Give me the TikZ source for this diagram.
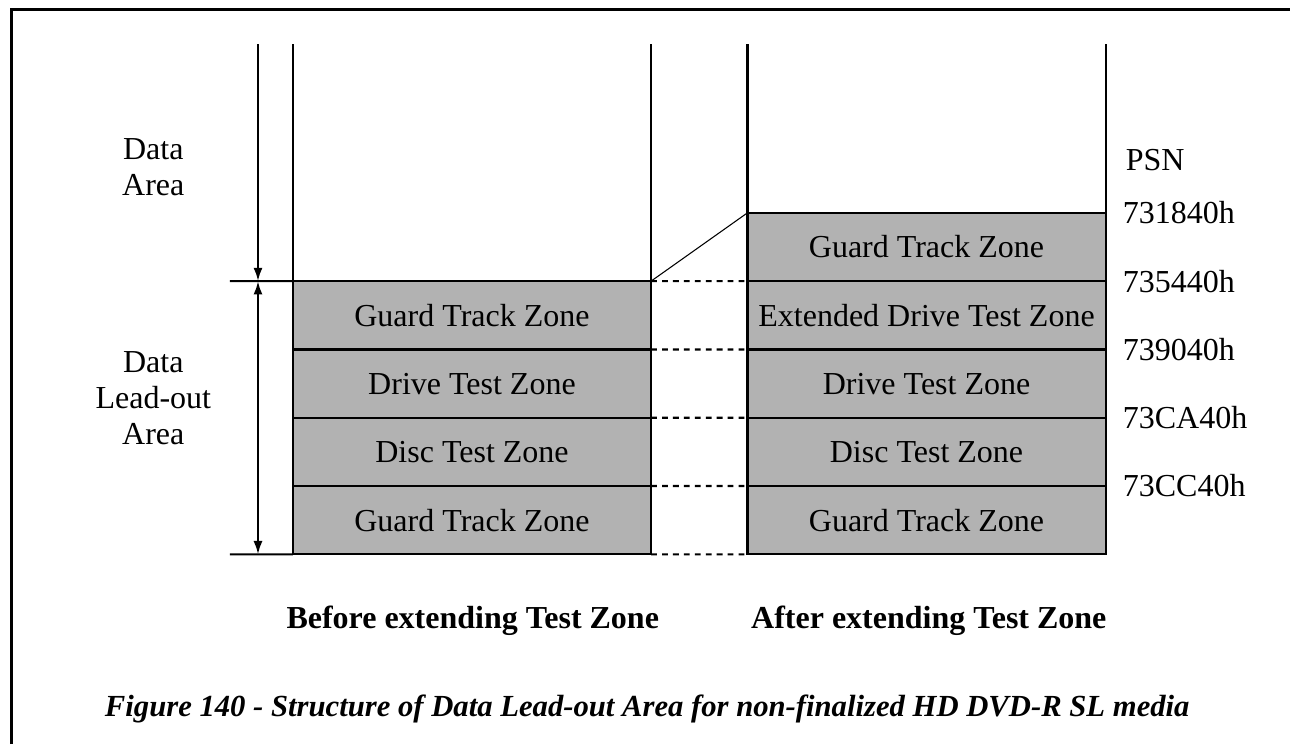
\documentclass[tikz,border=0pt]{standalone}
\usepackage{fontspec}
\setmainfont{Liberation Serif}
\usetikzlibrary{positioning,arrows.meta}

\begin{document}
\begin{tikzpicture}[
  font=\fontsize{12}{13.5}\selectfont,
  >={Latex[length=5pt,width=3.4pt]},
  zone/.style={rectangle, draw=black, fill=black!30, line width=0.8pt, inner sep=0pt, outer sep=0pt, minimum width=4.72cm, minimum height=0.9cm},
  wall/.style={line width=0.8pt, draw=black},
  link/.style={line width=0.8pt, dash pattern=on 2.2pt off 1.9pt},
  addr/.style={anchor=west, inner sep=0pt},
  side/.style={align=center, inner sep=0pt},
  title/.style={font=\fontsize{12}{13.5}\selectfont\bfseries}
]
  \useasboundingbox (0,0) rectangle (17,9.805);

  % Marco (solo borde superior e izquierdo)
  \draw[line width=1.1pt] (0.15,0) -- (0.15,9.68) -- (17,9.68);

  % Antes de extender: columna izquierda
  \node[zone] (bg1) at (6.22,5.65) {Guard Track Zone};
  \node[zone, below=0pt of bg1] (bd) {Drive Test Zone};
  \node[zone, below=0pt of bd] (bc) {Disc Test Zone};
  \node[zone, below=0pt of bc] (bg2) {Guard Track Zone};

  % Despues de extender: columna derecha
  \node[zone] (ag1) at (12.21,6.55) {Guard Track Zone};
  \node[zone, below=0pt of ag1] (ae) {Extended Drive Test Zone};
  \node[zone, below=0pt of ae] (ad) {Drive Test Zone};
  \node[zone, below=0pt of ad] (ac) {Disc Test Zone};
  \node[zone, below=0pt of ac] (ag2) {Guard Track Zone};

  % Lineas verticales de la zona de datos
  \coordinate (top) at (3.40,9.225);
  \draw[wall] (bg1.north west) -- (bg1.north west |- top);
  \draw[wall] (bg1.north east) -- (bg1.north east |- top);
  \draw[wall] (ag1.north west) -- (ag1.north west |- top);
  \draw[wall] (ag1.north east) -- (ag1.north east |- top);

  % Flechas de extension a la izquierda
  \coordinate (tk1) at (3.03,6.1);
  \coordinate (tk2) at (3.03,2.5);
  \draw[wall] (tk1) -- (bg1.north west);
  \draw[wall] (tk2) -- (bg2.south west);
  \draw[wall, ->] (top) -- (top |- bg1.north);
  \draw[wall, <->] (top |- bg1.north) -- (top |- bg2.south);

  % Conexiones entre columnas
  \draw[line width=0.4pt] (bg1.north east) -- (ag1.north west);
  \draw[link] (bg1.north east) -- (ae.north west);
  \draw[link] (bd.north east) -- (ad.north west);
  \draw[link] (bc.north east) -- (ac.north west);
  \draw[link] (bg2.north east) -- (ag2.north west);
  \draw[link] (bg2.south east) -- (ag2.south west);

  % Direcciones PSN
  \node[addr] (psn) at (14.83,7.70) {PSN};
  \node[addr, right=0.22cm of ag1.north east] (p1) {731840h};
  \node[addr, right=0.22cm of ae.north east] (p2) {735440h};
  \node[addr, right=0.22cm of ad.north east] (p3) {739040h};
  \node[addr, right=0.22cm of ac.north east] (p4) {73CA40h};
  \node[addr, right=0.22cm of ag2.north east] (p5) {73CC40h};

  % Etiquetas laterales
  \node[side] (lda) at (2.02,7.6) {Data\\Area};
  \node[side] (llo) at (2.02,4.56) {Data\\Lead-out\\Area};

  % Titulos y pie de figura
  \node[title] (tb) at (6.23,1.62) {Before extending Test Zone};
  \node[title] (ta) at (12.24,1.62) {After extending Test Zone};
  \node[font=\fontsize{11.5}{13}\selectfont] (cap) at (8.53,0.46) {\textbf{\textit{Figure 140 - Structure of Data Lead-out Area for non-finalized HD DVD-R SL media}}};
\end{tikzpicture}
\end{document}
